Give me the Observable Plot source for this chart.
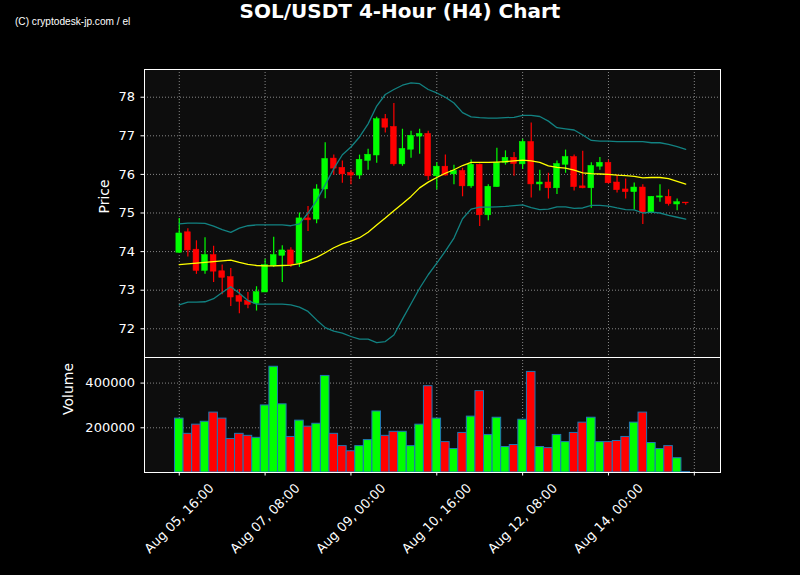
<!DOCTYPE html>
<html><head><meta charset="utf-8">
<script src="https://cdn.jsdelivr.net/npm/d3@7"></script>
<script src="https://cdn.jsdelivr.net/npm/@observablehq/plot@0.6"></script>
<style>
html,body{margin:0;padding:0;background:#000;}
#wrap{position:relative;width:800px;height:575px;background:#000;overflow:hidden;font-family:"DejaVu Sans",sans-serif;}
#title{position:absolute;left:0;top:0;width:800px;text-align:center;color:#fff;font-weight:bold;font-size:20px;line-height:22px;}
#credit{position:absolute;left:15px;top:15px;color:#fff;font-family:"Liberation Sans",sans-serif;font-size:11px;line-height:13px;transform:scaleX(0.92);transform-origin:left top;white-space:nowrap;}
#price{position:absolute;left:0;top:0;}
#vol{position:absolute;left:0;top:354px;}
</style></head>
<body><div id="wrap"><div id="price"></div><div id="vol"></div><div id="title">SOL/USDT 4-Hour (H4) Chart</div><div id="credit">(C) cryptodesk-jp.com / el</div></div>
<script>
const startTime = "2024-08-05T16:00:00Z";
const stepHours = 4;
const open  = [73.97,74.50,74.05,73.50,73.91,73.49,73.34,72.85,72.72,72.65,72.94,73.63,73.89,74.03,73.69,74.86,74.83,75.61,76.41,76.17,76.04,75.97,76.35,76.49,77.43,77.23,76.26,76.64,76.98,77.05,75.95,76.20,76.00,76.09,75.69,76.25,74.94,75.67,76.30,76.43,76.26,76.84,75.74,75.79,75.64,76.25,76.45,75.69,75.64,76.20,76.30,75.79,75.61,75.54,75.66,75.01,75.40,75.42,75.22,75.27];
const high  = [74.86,74.59,74.28,74.36,74.14,73.65,73.56,73.02,72.94,73.09,73.80,74.37,74.15,74.10,75.00,75.17,75.73,76.82,76.50,76.35,76.11,76.50,76.65,77.48,77.55,77.84,77.17,77.12,77.17,77.12,76.30,76.50,76.24,76.16,76.37,76.27,75.73,76.68,76.61,76.57,76.91,77.33,76.11,76.03,76.35,76.63,76.50,76.60,76.30,76.44,76.37,75.99,75.88,75.78,75.73,75.42,75.73,75.60,75.36,75.27];
const low   = [73.95,73.86,73.41,73.41,73.20,72.88,72.58,72.39,72.52,72.46,72.94,73.59,73.20,73.59,73.59,74.52,74.72,75.37,75.98,75.77,75.73,75.87,76.11,76.29,77.07,76.21,76.21,76.42,76.52,75.84,75.60,75.96,75.73,75.42,75.64,74.65,74.80,75.67,76.24,75.95,76.13,75.39,75.57,75.36,75.48,76.03,75.57,75.63,75.12,76.11,75.75,75.52,75.36,75.08,74.70,74.98,75.28,75.18,75.06,75.20];
const close = [74.47,74.03,73.50,73.91,73.48,73.32,72.81,72.70,72.62,72.95,73.65,73.91,74.03,73.65,74.86,74.81,75.61,76.40,76.15,76.00,75.97,76.38,76.51,77.43,77.21,76.26,76.66,77.00,77.05,75.95,76.20,75.97,76.09,75.69,76.25,74.94,75.68,76.30,76.43,76.27,76.84,75.74,75.79,75.64,76.27,76.45,75.67,75.64,76.22,76.30,75.77,75.59,75.54,75.66,75.01,75.42,75.43,75.23,75.28,75.25];
const volume = [241000,173000,214000,227000,268000,241000,150000,173000,164000,155000,
                300000,473000,305000,159000,232000,205000,218000,432000,173000,118000,
                95000,118000,145000,273000,164000,182000,182000,118000,214000,386000,
                241000,136000,105000,177000,250000,364000,168000,245000,114000,123000,
                236000,450000,114000,109000,168000,136000,177000,223000,245000,136000,
                136000,141000,159000,223000,268000,132000,105000,118000,64000,2000];
const sma20 = [73.66,73.68,73.70,73.72,73.74,73.76,73.78,73.72,73.67,73.64,
               73.63,73.63,73.64,73.65,73.69,73.76,73.85,73.97,74.10,74.20,
               74.27,74.36,74.50,74.69,74.87,75.06,75.24,75.43,75.65,75.80,
               75.92,76.03,76.12,76.23,76.31,76.31,76.31,76.32,76.33,76.35,
               76.37,76.35,76.31,76.22,76.18,76.16,76.11,76.04,76.02,76.01,
               76.00,75.98,75.97,75.95,75.91,75.92,75.92,75.89,75.82,75.75];
const upperBand = [74.72,74.74,74.74,74.73,74.66,74.57,74.50,74.61,74.67,74.69,
                   74.69,74.69,74.69,74.67,74.72,75.00,75.32,75.73,76.15,76.51,
                   76.71,76.97,77.31,77.77,78.07,78.20,78.31,78.37,78.35,78.20,
                   78.11,78.00,77.85,77.60,77.49,77.47,77.46,77.46,77.47,77.48,
                   77.53,77.53,77.50,77.38,77.21,77.18,77.15,77.02,76.88,76.86,
                   76.86,76.85,76.85,76.85,76.85,76.82,76.82,76.78,76.72,76.65];
const lowerBand = [72.62,72.69,72.69,72.70,72.78,72.94,73.09,72.92,72.73,72.64,
                   72.64,72.64,72.64,72.62,72.56,72.45,72.23,72.03,71.94,71.89,
                   71.80,71.73,71.73,71.64,71.67,71.84,72.25,72.65,73.05,73.40,
                   73.70,74.01,74.35,74.85,75.10,75.15,75.15,75.16,75.17,75.19,
                   75.21,75.14,75.09,75.10,75.16,75.16,75.12,75.13,75.20,75.20,
                   75.18,75.13,75.09,75.08,75.00,75.02,75.00,74.94,74.89,74.84];
const xTickDates = ["2024-08-05T16:00:00Z","2024-08-07T08:00:00Z","2024-08-09T00:00:00Z","2024-08-10T16:00:00Z","2024-08-12T08:00:00Z","2024-08-14T00:00:00Z","2024-08-15T16:00:00Z"];
const xTickLabels = ["Aug 05, 16:00","Aug 07, 08:00","Aug 09, 00:00","Aug 10, 16:00","Aug 12, 08:00","Aug 14, 00:00",""];
const priceTicks = [72,73,74,75,76,77,78];
const volumeTicks = [200000,400000];

const HOUR = 3600e3;
const t0 = new Date(startTime);
const rows = open.map((o, i) => ({
  date: new Date(+t0 + i * stepHours * HOUR),
  open: o, high: high[i], low: low[i], close: close[i], volume: volume[i],
  sma: sma20[i], upper: upperBand[i], lower: lowerBand[i], up: close[i] >= o
}));
const xDomain = [new Date(+t0 - 16.2 * HOUR), new Date(+t0 + 252.2 * HOUR)];
const tickDates = xTickDates.map(s => new Date(s));
const tickRows = tickDates.map((d, i) => ({date: d, label: xTickLabels[i]})).filter(d => d.label !== "");
const grid = {stroke: "#b0b0b0", strokeOpacity: 0.75, strokeDasharray: "1,2", strokeWidth: 1};
const colorOf = d => d.up ? "#00ff00" : "#ff0000";
const bodyHalf = 1.35 * HOUR, barHalf = 2 * HOUR;
const baseStyle = {background: "transparent", color: "#fff", fontSize: "13px", fontFamily: "DejaVu Sans, sans-serif", overflow: "visible"};

const priceChart = Plot.plot({
  width: 800, height: 360, marginLeft: 144, marginRight: 80, marginTop: 69, marginBottom: 3,
  style: baseStyle,
  x: {type: "utc", domain: xDomain, axis: null},
  y: {domain: [71.256, 78.718]},
  marks: [
    Plot.frame({fill: "#0d0d0d", stroke: null}),
    Plot.ruleX(tickDates, grid),
    Plot.ruleY(priceTicks, grid),
    Plot.ruleX(rows, {x: "date", y1: "low", y2: "high", stroke: colorOf, strokeWidth: 1.2}),
    Plot.rect(rows, {x1: d => new Date(+d.date - bodyHalf), x2: d => new Date(+d.date + bodyHalf), y1: "open", y2: "close", fill: colorOf, stroke: colorOf, strokeWidth: 0.5}),
    Plot.line(rows, {x: "date", y: "upper", stroke: "#128282", strokeWidth: 1.3}),
    Plot.line(rows, {x: "date", y: "lower", stroke: "#128282", strokeWidth: 1.3}),
    Plot.line(rows, {x: "date", y: "sma", stroke: "#ffff00", strokeWidth: 1.3}),
    Plot.axisY(priceTicks, {tickSize: 3.5, tickPadding: 6, label: null, fontSize: 13}),
    Plot.text(["Price"], {frameAnchor: "left", dx: -40, rotate: -90, text: d => d, fill: "#fff", fontSize: 14}),
    Plot.frame({stroke: "#fff", strokeWidth: 1})
  ]
});
document.getElementById("price").append(priceChart);

const volChart = Plot.plot({
  width: 800, height: 221, marginLeft: 144, marginRight: 80, marginTop: 3, marginBottom: 103,
  style: baseStyle,
  x: {type: "utc", domain: xDomain},
  y: {domain: [0, 514500]},
  marks: [
    Plot.frame({fill: "#0d0d0d", stroke: null}),
    Plot.ruleX(tickDates, grid),
    Plot.ruleY(volumeTicks, grid),
    Plot.rect(rows, {x1: d => new Date(+d.date - barHalf), x2: d => new Date(+d.date + barHalf), y1: 0, y2: "volume", fill: colorOf, stroke: "#1f77b4", strokeWidth: 1}),
    Plot.axisY(volumeTicks, {tickSize: 3.5, tickPadding: 6, label: null, tickFormat: d => String(d), fontSize: 13}),
    Plot.axisX(tickDates, {tickSize: 3.5, tickFormat: () => "", label: null}),
    Plot.text(tickRows, {x: "date", text: "label", frameAnchor: "bottom", dy: 46, rotate: -45, textAnchor: "middle", lineAnchor: "middle", fill: "#fff", fontSize: 13}),
    Plot.text(["Volume"], {frameAnchor: "left", dx: -76, rotate: -90, text: d => d, fill: "#fff", fontSize: 14}),
    Plot.frame({stroke: "#fff", strokeWidth: 1})
  ]
});
document.getElementById("vol").append(volChart);
</script></body></html>
